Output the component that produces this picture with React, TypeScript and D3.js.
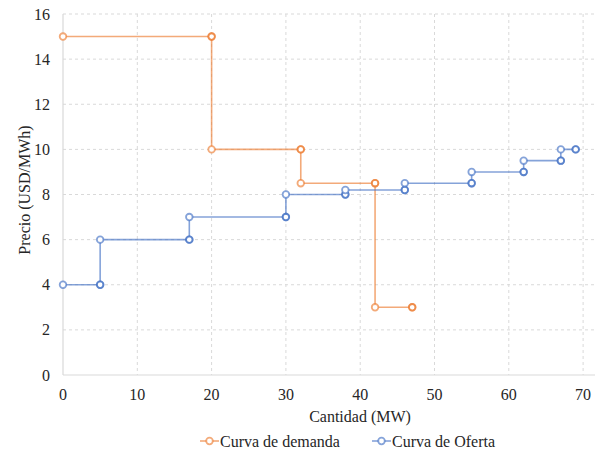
import { useEffect, useRef } from "react";
import * as d3 from "d3";

// Step curves: [cantidad MW, precio USD/MWh]
const demandX = [0, 20, 20, 32, 32, 42, 42, 47];
const demandY = [15, 15, 10, 10, 8.5, 8.5, 3, 3];
const supplyX = [0, 5, 5, 17, 17, 30, 30, 38, 38, 46, 46, 55, 55, 62, 62, 67, 67, 69];
const supplyY = [4, 4, 6, 6, 7, 7, 8, 8, 8.2, 8.2, 8.5, 8.5, 9, 9, 9.5, 9.5, 10, 10];
const xTicks = [0, 10, 20, 30, 40, 50, 60, 70];
const yTicks = [0, 2, 4, 6, 8, 10, 12, 14, 16];

const seriesNames = ["Curva de demanda", "Curva de Oferta"];
const seriesColors = ["#ED7D31", "#4472C4"];

const FONT = "'Liberation Serif', 'Times New Roman', serif";

export default function App() {
  const svgRef = useRef<SVGSVGElement>(null);

  useEffect(() => {
    if (!svgRef.current) return;
    const svg = d3.select(svgRef.current);
    svg.selectAll("*").remove();

    const width = 598;
    const height = 450;
    const margin = { top: 14, right: 3, bottom: 75, left: 63 };
    const innerW = width - margin.left - margin.right;
    const innerH = height - margin.top - margin.bottom;

    svg.attr("width", width).attr("height", height);

    const g = svg.append("g").attr("transform", `translate(${margin.left},${margin.top})`);

    const x = d3.scaleLinear().domain([0, 71.6]).range([0, innerW]);
    const y = d3.scaleLinear().domain([0, 16]).range([innerH, 0]);

    // grid
    xTicks.filter((t) => t > 0).forEach((t) => {
      g.append("line")
        .attr("x1", x(t)).attr("x2", x(t))
        .attr("y1", 0).attr("y2", innerH)
        .attr("stroke", "#d9d9d9")
        .attr("stroke-dasharray", "3,3");
    });
    yTicks.filter((t) => t > 0).forEach((t) => {
      g.append("line")
        .attr("x1", 0).attr("x2", innerW)
        .attr("y1", y(t)).attr("y2", y(t))
        .attr("stroke", "#d9d9d9")
        .attr("stroke-dasharray", "3,3");
    });

    // axes lines
    g.append("line").attr("x1", 0).attr("x2", innerW).attr("y1", innerH).attr("y2", innerH)
      .attr("stroke", "#d9d9d9").attr("stroke-width", 1.2);
    g.append("line").attr("x1", 0).attr("x2", 0).attr("y1", 0).attr("y2", innerH)
      .attr("stroke", "#d9d9d9").attr("stroke-width", 1.2);

    // tick labels
    xTicks.forEach((t) => {
      g.append("text")
        .attr("x", x(t)).attr("y", innerH + 25)
        .attr("text-anchor", "middle")
        .style("font-family", FONT)
        .attr("font-size", 16)
        .attr("fill", "#262626")
        .text(t);
    });
    yTicks.forEach((t) => {
      g.append("text")
        .attr("x", -13).attr("y", y(t) + 5.5)
        .attr("text-anchor", "end")
        .style("font-family", FONT)
        .attr("font-size", 16)
        .attr("fill", "#262626")
        .text(t);
    });

    // axis titles
    svg.append("text")
      .attr("x", 360).attr("y", 422)
      .attr("text-anchor", "middle")
      .style("font-family", FONT)
      .attr("font-size", 16)
      .attr("fill", "#262626")
      .text("Cantidad (MW)");
    svg.append("text")
      .attr("transform", `translate(30,190) rotate(-90)`)
      .attr("text-anchor", "middle")
      .style("font-family", FONT)
      .attr("font-size", 16)
      .attr("fill", "#262626")
      .text("Precio (USD/MWh)");

    // series
    const series = [
      { xs: demandX, ys: demandY, color: seriesColors[0] },
      { xs: supplyX, ys: supplyY, color: seriesColors[1] },
    ];
    const line = d3.line<[number, number]>().x((d) => x(d[0])).y((d) => y(d[1]));

    series.forEach((s) => {
      const pts: [number, number][] = s.xs.map((v, i) => [v, s.ys[i]]);
      g.append("path")
        .attr("d", line(pts))
        .attr("fill", "none")
        .attr("stroke", s.color)
        .attr("stroke-opacity", 0.65)
        .attr("stroke-width", 1.6);
      pts.forEach((p, i) => {
        // end of each step is drawn twice in the source, so it looks darker
        const reps = i % 2 === 1 ? 2 : 1;
        for (let k = 0; k < reps; k++) {
          g.append("circle")
            .attr("cx", x(p[0])).attr("cy", y(p[1]))
            .attr("r", 3.3)
            .attr("fill", "white")
            .attr("fill-opacity", k === 0 ? 1 : 0)
            .attr("stroke", s.color)
            .attr("stroke-opacity", 0.65)
            .attr("stroke-width", 1.8);
        }
      });
    });

    // legend
    const legendY = 441;
    const legendItems = [
      { x: 200, name: seriesNames[0], color: seriesColors[0] },
      { x: 372, name: seriesNames[1], color: seriesColors[1] },
    ];
    legendItems.forEach((it) => {
      svg.append("line")
        .attr("x1", it.x).attr("x2", it.x + 19)
        .attr("y1", legendY).attr("y2", legendY)
        .attr("stroke", it.color).attr("stroke-opacity", 0.65).attr("stroke-width", 1.6);
      svg.append("circle")
        .attr("cx", it.x + 9.5).attr("cy", legendY).attr("r", 3.3)
        .attr("fill", "white")
        .attr("stroke", it.color).attr("stroke-opacity", 0.65).attr("stroke-width", 1.8);
      svg.append("text")
        .attr("x", it.x + 20).attr("y", legendY + 5.5)
        .style("font-family", FONT)
        .attr("font-size", 16)
        .attr("fill", "#262626")
        .text(it.name);
    });
  }, []);

  return (
    <div style={{ position: "absolute", left: 0, top: 0 }}>
      <svg ref={svgRef} style={{ display: "block", background: "white" }} />
    </div>
  );
}
